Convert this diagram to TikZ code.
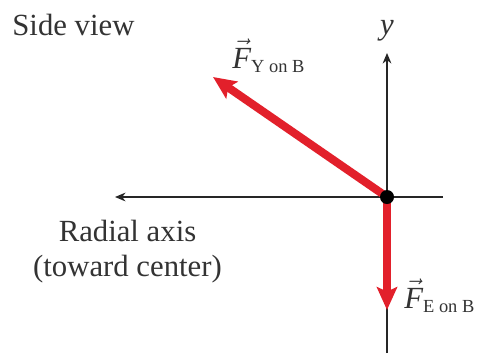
\documentclass[tikz,border=0pt]{standalone}
\usepackage{fontspec}
\setmainfont{Liberation Serif}
\usetikzlibrary{arrows.meta}
\definecolor{forcered}{HTML}{E2202B}
\definecolor{axisgray}{HTML}{262626}
\definecolor{textgray}{HTML}{333333}

\begin{document}
\begin{tikzpicture}[x=1cm,y=1cm]
  \tikzset{
    axisline/.style={axisgray,line width=0.8pt},
    axistip/.style={-{Stealth[length=6pt,width=5pt]}},
    forcevec/.style={forcered,line width=4.6pt,
      -{Stealth[length=13pt,width=11.5pt,inset=2.5pt]}},
    biglabel/.style={text=textgray,font=\fontsize{17.5}{20}\selectfont,inner sep=0pt},
  }
  \useasboundingbox (0,0) rectangle (9.54,7.06);

  % Axes through the block.
  \coordinate (O) at (7.74,3.12);
  \coordinate (radtip) at (2.30,3.12);
  \coordinate (radend) at (8.86,3.12);
  \coordinate (ytip) at (7.74,6.00);
  \coordinate (yend) at (7.74,0);
  \draw[axisline,axistip] (radend) -- (radtip);
  \draw[axisline,axistip] (yend) -- (ytip);

  % Forces on the block.
  \coordinate (FYtip) at (4.26,5.52);
  \coordinate (FEtip) at (7.74,0.86);
  \draw[forcevec] (O) -- (FYtip);
  \draw[forcevec] (O) -- (FEtip);
  \fill[black] (O) circle (0.14);

  % Labels.
  \node[biglabel,anchor=base west] (title) at (0.24,6.36) {Side view};
  \node[biglabel] (ylab) at (7.74,6.44) {\textit{y}};
  \node[biglabel,align=center] (radlab) at (2.55,2.02)
    {Radial axis\\(toward center)};
  \node[biglabel,anchor=base west] (FYlab) at (4.64,5.70)
    {$\vec{\mathit{F}}_{\mbox{\fontsize{10.5}{12}\selectfont Y on B}}$};
  \node[biglabel,anchor=base west] (FElab) at (8.08,0.90)
    {$\vec{\mathit{F}}_{\mbox{\fontsize{10.5}{12}\selectfont E on B}}$};
\end{tikzpicture}
\end{document}
